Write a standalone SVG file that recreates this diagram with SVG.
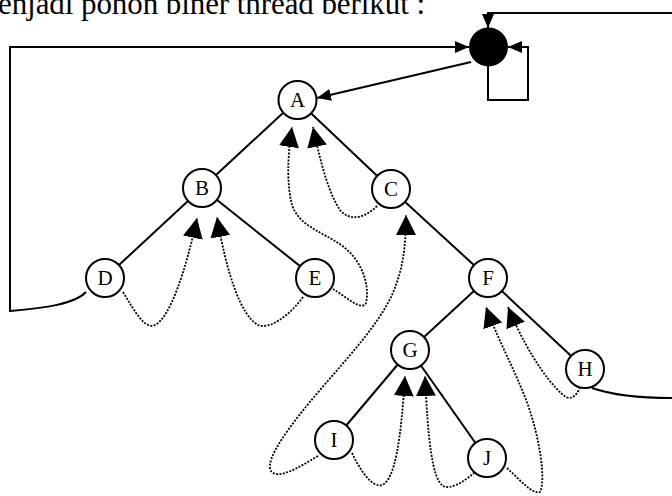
<svg xmlns="http://www.w3.org/2000/svg" width="672" height="496" viewBox="0 0 672 496">
  <style>
    .edge { stroke: #000; stroke-width: 2; fill: none; }
    .thread { stroke: #000; stroke-width: 1.8; fill: none; stroke-dasharray: 2 1.4; }
    .link { stroke: #000; stroke-width: 2; fill: none; }
    .node circle { fill: #fff; stroke: #000; stroke-width: 2; }
    .node text { font-family: "Liberation Serif", "Times New Roman", serif; font-size: 21px; text-anchor: middle; fill: #000; }
    .caption { font-family: "Liberation Serif", "Times New Roman", serif; font-size: 31px; fill: #000; }
  </style>
  <defs>
    <marker id="big" viewBox="0 0 20 20" refX="20" refY="10" markerWidth="20" markerHeight="20" markerUnits="userSpaceOnUse" orient="auto">
      <path d="M0,0 L20,10 L0,20 z" fill="#000"/>
    </marker>
    <marker id="small" viewBox="0 0 14 12" refX="14" refY="6" markerWidth="14" markerHeight="12" markerUnits="userSpaceOnUse" orient="auto">
      <path d="M0,0 L14,6 L0,12 z" fill="#000"/>
    </marker>
  </defs>

  <rect width="672" height="496" fill="#fff"/>

  <text class="caption" x="-2" y="14" textLength="427" lengthAdjust="spacing">enjadi pohon biner thread berikut :</text>

  <g id="connectors">
    <!-- tree edges -->
    <line class="edge" x1="297" y1="100" x2="202" y2="188"/>
    <line class="edge" x1="297" y1="100" x2="391" y2="189"/>
    <line class="edge" x1="202" y1="188" x2="105" y2="278"/>
    <line class="edge" x1="202" y1="188" x2="315" y2="278"/>
    <line class="edge" x1="391" y1="189" x2="488" y2="278"/>
    <line class="edge" x1="488" y1="278" x2="410" y2="350"/>
    <line class="edge" x1="488" y1="278" x2="585" y2="369"/>
    <line class="edge" x1="410" y1="350" x2="334" y2="440"/>
    <line class="edge" x1="410" y1="350" x2="486" y2="458"/>

    <!-- links to the head node -->
    <path class="link" d="M672 13 L488 13 L488 28" marker-end="url(#small)"/>
    <path class="link" d="M86 292 C75 304, 45 308, 10 311 L10 47 L469 47" marker-end="url(#small)"/>
    <path class="link" d="M488 66 L488 100 L528 100 L528 47 L508 47" marker-end="url(#small)"/>
    <path class="link" d="M471 62 L317 98" marker-end="url(#small)"/>
    <path class="link" d="M592 388 C612 395, 640 398, 672 398"/>

    <!-- threads -->
    <path class="thread" d="M123 292 C135 312, 145 330, 155 325 C170 318, 186 270, 197 218" marker-end="url(#big)"/>
    <path class="thread" d="M303 297 C290 315, 270 330, 258 325 C240 315, 226 270, 217 217" marker-end="url(#big)"/>
    <path class="thread" d="M333 289 C345 296, 362 312, 366 303 C370 285, 362 262, 345 248 C325 232, 300 228, 292 205 C287 185, 287 160, 292 127" marker-end="url(#big)"/>
    <path class="thread" d="M377 206 C365 218, 350 222, 340 210 C330 195, 322 170, 313 127" marker-end="url(#big)"/>
    <path class="thread" d="M318 456 C298 468, 278 480, 271 471 C264 460, 290 425, 320 390 C350 355, 378 325, 392 295 C402 272, 406 250, 406 215" marker-end="url(#big)"/>
    <path class="thread" d="M352 453 C360 470, 372 488, 382 485 C395 480, 401 440, 405 376" marker-end="url(#big)"/>
    <path class="thread" d="M477 470 C465 482, 450 490, 443 486 C432 478, 428 440, 425 376" marker-end="url(#big)"/>
    <path class="thread" d="M507 468 C520 480, 533 495, 540 492 C546 480, 540 440, 528 405 C515 370, 498 340, 486 307" marker-end="url(#big)"/>
    <path class="thread" d="M580 387 C577 395, 572 400, 566 397 C555 390, 530 360, 508 307" marker-end="url(#big)"/>
  </g>

  <g id="head"><circle cx="488.5" cy="47" r="19.5" fill="#000"/></g>
  <g id="node-A" class="node"><circle cx="297.5" cy="100" r="19"/><text x="297.5" y="107">A</text></g>
  <g id="node-B" class="node"><circle cx="202" cy="188" r="19"/><text x="202" y="195">B</text></g>
  <g id="node-C" class="node"><circle cx="391" cy="189" r="19"/><text x="391" y="196">C</text></g>
  <g id="node-D" class="node"><circle cx="105" cy="278" r="19"/><text x="105" y="285">D</text></g>
  <g id="node-E" class="node"><circle cx="315" cy="278" r="19"/><text x="315" y="285">E</text></g>
  <g id="node-F" class="node"><circle cx="488" cy="278" r="19"/><text x="488" y="285">F</text></g>
  <g id="node-G" class="node"><circle cx="410" cy="350" r="19"/><text x="410" y="357">G</text></g>
  <g id="node-H" class="node"><circle cx="585" cy="369" r="19"/><text x="585" y="376">H</text></g>
  <g id="node-I" class="node"><circle cx="334" cy="440" r="19"/><text x="334" y="447">I</text></g>
  <g id="node-J" class="node"><circle cx="487" cy="458" r="19"/><text x="487" y="465">J</text></g>
</svg>
